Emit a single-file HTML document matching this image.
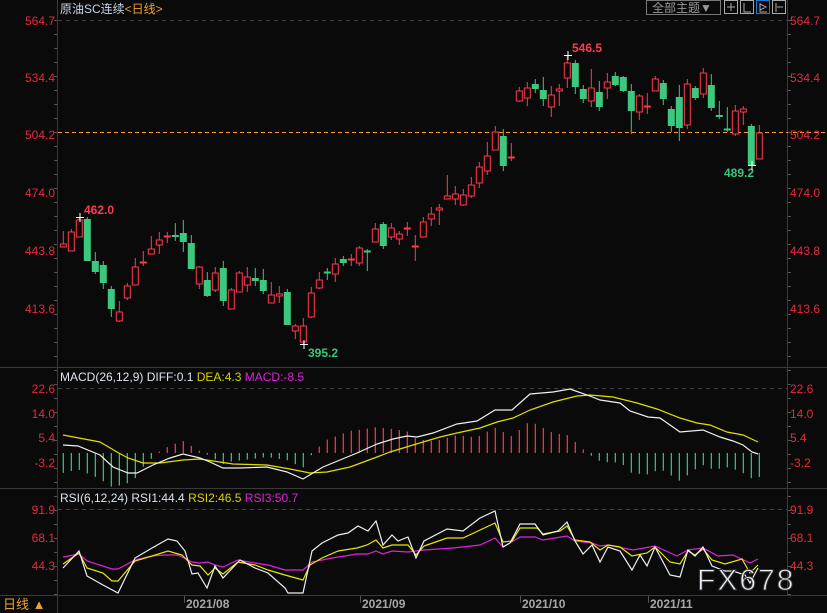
<!DOCTYPE html>
<html><head><meta charset="utf-8">
<style>
html,body{margin:0;padding:0;background:#0a0a0a;}
#c{position:relative;width:827px;height:613px;overflow:hidden;background:#0a0a0a;font-family:"Liberation Sans","Noto Sans CJK SC",sans-serif;}
svg{position:absolute;left:0;top:0;}
</style></head><body>
<div id="c">
<svg id="s" width="827" height="613" xmlns="http://www.w3.org/2000/svg" font-family="Liberation Sans, Noto Sans CJK SC, sans-serif">
<g id="frame" stroke="#3a3a3a" stroke-width="1" fill="none">
<line x1="57.5" y1="0" x2="57.5" y2="613"/>
<line x1="787.5" y1="0" x2="787.5" y2="595"/>
<line x1="0" y1="367.5" x2="827" y2="367.5"/>
<line x1="0" y1="488.5" x2="827" y2="488.5"/>
<line x1="0" y1="595.5" x2="827" y2="595.5"/>
</g>
<g stroke="#444" stroke-dasharray="4,4" stroke-width="1">
<line x1="58" y1="20.5" x2="787" y2="20.5"/>
<line x1="58" y1="388.5" x2="787" y2="388.5"/>
<line x1="58" y1="509.5" x2="787" y2="509.5"/>
</g>
<line x1="58" y1="132.5" x2="827" y2="132.5" stroke="#ff9a2e" stroke-dasharray="4,3" stroke-width="1"/>
<g id="ticks" stroke="#555"></g>
<g id="draw"></g>
<g font-size="12" fill="#e8283c" text-anchor="end">
<text x="55" y="25">564.7</text><text x="55" y="82">534.4</text><text x="55" y="139">504.2</text>
<text x="55" y="197">474.0</text><text x="55" y="255">443.8</text><text x="55" y="313">413.6</text>
<text x="55" y="393">22.6</text><text x="55" y="418">14.0</text><text x="55" y="442">5.4</text><text x="55" y="467">-3.2</text>
<text x="55" y="514">91.9</text><text x="55" y="542">68.1</text><text x="55" y="570">44.3</text>
</g>
<g font-size="12" fill="#e8283c">
<text x="790" y="25">564.7</text><text x="790" y="82">534.4</text><text x="790" y="139">504.2</text>
<text x="790" y="197">474.0</text><text x="790" y="255">443.8</text><text x="790" y="313">413.6</text>
<text x="790" y="393">22.6</text><text x="790" y="418">14.0</text><text x="790" y="442">5.4</text><text x="790" y="467">-3.2</text>
<text x="790" y="514">91.9</text><text x="790" y="542">68.1</text><text x="790" y="570">44.3</text>
</g>
<g font-size="12" font-weight="bold">
<text x="84" y="214" fill="#ff3a4e">462.0</text>
<text x="308" y="357" fill="#3cc57c">395.2</text>
<text x="572" y="52" fill="#ff3a4e">546.5</text>
<text x="724" y="177" fill="#3cc57c">489.2</text>
</g>
<g stroke="#fff" stroke-width="1">
<line x1="76" y1="217.5" x2="84" y2="217.5"/><line x1="80" y1="213" x2="80" y2="222"/>
<line x1="300" y1="344.5" x2="308" y2="344.5"/><line x1="304" y1="340" x2="304" y2="349"/>
<line x1="564" y1="55.5" x2="572" y2="55.5"/><line x1="568" y1="51" x2="568" y2="60"/>
<line x1="748" y1="165.5" x2="756" y2="165.5"/><line x1="752" y1="161" x2="752" y2="170"/>
</g>
<text x="60" y="13" font-size="12" fill="#c8d4e8">原油SC连续<tspan fill="#f0a030">&lt;日线&gt;</tspan></text>
<text x="60" y="381" font-size="12" fill="#dde4f0">MACD(26,12,9) DIFF:0.1 <tspan fill="#d6d400">DEA:4.3</tspan> <tspan fill="#e020e0">MACD:-8.5</tspan></text>
<text x="60" y="502" font-size="12" fill="#dde4f0">RSI(6,12,24) RSI1:44.4 <tspan fill="#d6d400">RSI2:46.5</tspan> <tspan fill="#e020e0">RSI3:50.7</tspan></text>
<rect x="646.5" y="0.5" width="74" height="14" fill="none" stroke="#777"/>
<text x="652" y="12" font-size="12" fill="#999">全部主题▼</text>
<g fill="none" stroke="#aaa">
<rect x="724.5" y="0.5" width="13" height="13"/><rect x="740.5" y="0.5" width="13" height="13"/>
<rect x="756.5" y="0.5" width="13" height="13" stroke="#1e7ad8"/><rect x="772.5" y="0.5" width="13" height="13"/>
<path d="M731 3v8M727 7h8M744 3v9h7M760 3v9h7M760 4l6 3-6 3M776 3v9M777 7h6"/>
</g>
<g font-size="12" font-weight="bold" fill="#a8a8a8">
<text x="186" y="608">2021/08</text><text x="362" y="608">2021/09</text>
<text x="522" y="608">2021/10</text><text x="650" y="608">2021/11</text>
</g>
<g stroke="#555"><line x1="184.5" y1="596" x2="184.5" y2="603"/><line x1="360.5" y1="596" x2="360.5" y2="603"/><line x1="520.5" y1="596" x2="520.5" y2="603"/><line x1="648.5" y1="596" x2="648.5" y2="603"/></g>
<text x="3" y="609" font-size="13" fill="#f0a030">日线 ▲</text>
<text x="697" y="590" font-size="30" fill="#e8eef4" stroke="#333" stroke-width="1" letter-spacing="2">FX678</text>
</svg>
</div>
<script>
var C=[
[244,247,231,247,1],[232,251,229,251,1],[220,237,217,237,1],[219,261,217,261,0],[261,272,252,274,0],
[265,283,261,289,0],[289,309,286,317,0],[312,321,301,322,1],[286,298,283,300,1],[267,285,258,285,1],
[262,263,251,266,1],[249,254,236,254,1],[240,245,232,254,1],[236,237,232,243,1],[235,237,223,241,0],
[233,242,220,252,0],[243,269,235,269,0],[267,284,266,289,1],[280,296,272,297,0],[273,290,267,292,1],
[268,301,261,306,0],[290,309,288,309,1],[273,292,271,292,1],[277,285,267,292,1],[278,281,268,286,0],
[280,291,269,294,0],[295,303,282,303,1],[294,296,286,303,1],[292,325,289,325,0],[326,331,324,339,1],
[326,342,318,345,1],[293,317,287,318,1],[280,288,272,289,1],[272,273,268,280,0],[264,274,258,282,1],
[259,263,256,266,0],[259,260,254,266,1],[248,263,246,266,1],[251,252,249,271,0],[229,242,223,242,1],
[224,246,222,249,0],[228,237,223,240,1],[234,239,231,245,1],[228,229,222,236,1],[246,247,235,261,1],
[222,237,217,237,1],[214,219,207,226,1],[208,210,204,225,1],[196,199,175,199,1],[194,199,186,205,1],
[195,205,189,206,1],[185,196,177,198,1],[167,183,162,188,1],[156,171,142,175,1],[132,150,126,150,1],
[136,166,129,171,0],[157,158,143,161,1],[91,101,87,102,1],[88,98,82,106,1],[84,89,79,93,0],
[90,99,77,106,0],[95,107,86,117,1],[89,91,84,106,1],[63,78,55,88,1],[63,87,60,94,0],
[89,99,85,103,0],[88,101,69,107,1],[92,107,81,111,0],[82,88,73,99,1],[76,85,72,86,0],
[77,91,76,92,0],[91,111,84,134,0],[96,112,94,120,1],[106,107,93,114,1],[79,91,76,91,1],
[83,99,80,105,0],[109,126,106,132,0],[97,128,85,141,0],[84,125,79,129,1],[88,98,86,100,0],
[73,94,68,98,1],[85,108,74,111,0],[115,117,101,119,0],[129,130,107,132,0],[111,134,105,136,1],
[109,112,106,125,1],[126,165,124,166,0],[133,159,125,159,1]];
var R='#ff3a4e',G='#3cc87f',NS='http://www.w3.org/2000/svg';
var d=document.getElementById('draw'),h='';
function X(i){return 63.3+8*i;}
function interp(p,x){if(x<=p[0][0])return p[0][1];for(var k=1;k<p.length;k++){if(x<=p[k][0]){var a=p[k-1],b=p[k];return a[1]+(b[1]-a[1])*(x-a[0])/(b[0]-a[0]);}}return p[p.length-1][1];}
var diff=[[63,445],[78,446],[100,455],[113,467],[128,473],[137,473],[153,465],[170,458],[183,454],[200,458],[210,462],[223,468],[240,468],[267,467],[287,472],[303,479],[323,467],[340,460],[357,453],[377,444],[393,439],[407,436],[417,437],[433,433],[457,424],[477,421],[495,410],[512,410],[530,394],[553,392],[570,389],[590,396],[600,400],[620,403],[630,411],[648,417],[660,418],[680,432],[703,430],[720,437],[733,441],[743,445],[752,452],[758,454]];
var dea=[[63,435],[100,442],[117,452],[128,458],[143,463],[160,463],[183,460],[200,459],[233,464],[267,465],[290,469],[310,473],[327,472],[350,467],[377,457],[390,452],[413,445],[440,437],[457,433],[480,428],[497,422],[513,418],[530,410],[553,402],[577,396],[590,395],[613,397],[637,403],[657,409],[680,418],[697,423],[710,425],[727,432],[743,435],[758,442]];
for(var i=0;i<88;i++){var x=X(i),yd=interp(diff,x),ye=interp(dea,x),v=2*(yd-ye);
 if(Math.abs(v)<1.5)v=v<0?-1.5:1.5;
 h+='<line x1="'+x.toFixed(1)+'" x2="'+x.toFixed(1)+'" y1="453" y2="'+(453+v).toFixed(1)+'" stroke="'+(v<0?R:G)+'" stroke-width="1.2"/>';}
function pl(p,c){return '<polyline fill="none" stroke="'+c+'" stroke-width="1.2" points="'+p.map(function(q){return q.join(',')}).join(' ')+'"/>';}
h+=pl(dea,'#e0e000')+pl(diff,'#f0f0f0');
var r1=[[63,568],[79,551],[87,576],[103,585],[118,593],[135,558],[152,548],[168,539],[177,541],[185,551],[192,574],[198,573],[207,588],[215,566],[223,578],[240,560],[255,568],[268,573],[285,588],[288,593],[303,593],[312,551],[322,543],[338,535],[348,533],[358,526],[368,531],[376,521],[383,545],[392,535],[398,541],[408,537],[416,558],[424,541],[447,529],[463,531],[480,518],[495,511],[503,547],[510,543],[520,524],[535,524],[543,535],[558,531],[567,522],[575,541],[583,554],[592,545],[600,562],[608,547],[620,551],[632,570],[640,555],[647,566],[655,547],[670,575],[680,577],[688,550],[695,556],[703,547],[712,566],[725,571],[733,571],[745,575],[750,583],[758,568]];
var r2=[[63,564],[79,553],[87,568],[103,573],[112,581],[118,581],[135,561],[152,556],[168,551],[182,555],[192,565],[200,566],[208,575],[215,568],[223,574],[238,562],[255,565],[268,570],[285,575],[303,580],[310,565],[322,558],[338,551],[357,548],[367,545],[376,540],[383,548],[392,545],[408,545],[416,555],[424,546],[427,545],[447,538],[463,538],[495,523],[503,542],[512,541],[520,528],[537,528],[543,534],[560,531],[567,526],[575,540],[590,542],[600,550],[608,545],[620,547],[632,556],[647,553],[655,547],[670,562],[680,564],[688,551],[695,555],[703,549],[712,560],[725,564],[742,559],[750,573],[758,565]];
var r3=[[63,557],[79,554],[87,561],[112,569],[118,569],[135,560],[152,556],[165,555],[178,555],[192,562],[200,563],[208,562],[215,565],[223,567],[238,560],[255,563],[268,565],[285,570],[303,570],[312,562],[332,558],[357,554],[368,554],[376,551],[383,554],[392,551],[408,552],[424,550],[453,548],[480,545],[495,538],[503,547],[520,537],[535,537],[543,540],[567,536],[575,541],[592,543],[600,546],[608,545],[633,550],[655,546],[677,556],[688,550],[703,548],[718,556],[733,555],[750,563],[758,559]];
h+=pl(r3,'#e020e0')+pl(r2,'#e8e800')+pl(r1,'#f0f0f0');
for(var i=0;i<88;i++){var c=C[i],x=X(i),col=c[4]?R:G;
 h+='<line x1="'+x+'" x2="'+x+'" y1="'+c[2]+'" y2="'+c[3]+'" stroke="'+col+'" stroke-width="1"/>';
 var hgt=c[1]-c[0];
 if(hgt<2){h+='<rect x="'+(x-3.5)+'" y="'+(c[0]-0.5)+'" width="7" height="2" fill="'+col+'"/>';}
 else if(c[4]){h+='<rect x="'+(x-3)+'" y="'+c[0]+'" width="6" height="'+hgt+'" fill="#0a0a0a" stroke="'+col+'" stroke-width="1"/>';}
 else{h+='<rect x="'+(x-3.5)+'" y="'+c[0]+'" width="7" height="'+hgt+'" fill="'+col+'"/>';}}
d.innerHTML=h;
var t='';for(var y=20;y<595;y+=14){t+='<line x1="54" x2="57" y1="'+y+'.5" y2="'+y+'.5"/><line x1="788" x2="791" y1="'+y+'.5" y2="'+y+'.5"/>';}
document.getElementById('ticks').innerHTML=t;
</script>
</body></html>
